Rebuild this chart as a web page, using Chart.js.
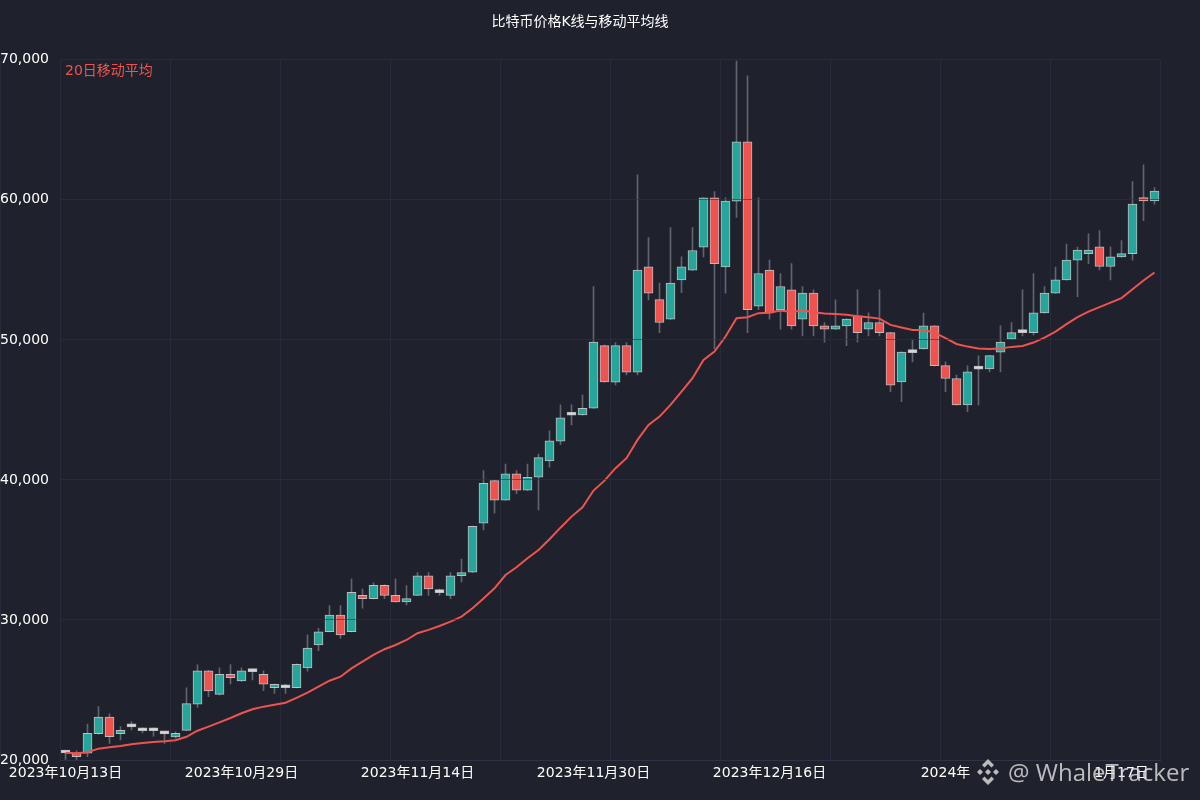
<!DOCTYPE html>
<html lang="zh-CN">
<head>
<meta charset="UTF-8">
<title>比特币价格K线与移动平均线</title>
<script src="https://cdn.jsdelivr.net/npm/chart.js@4.4.0/dist/chart.umd.min.js"></script>
<style>
  html, body { margin: 0; padding: 0; background: #1f222d; }
  #wrap { position: relative; width: 1200px; height: 800px; }
  #kline { display: block; }
  .mark { position: absolute; left: 974px; top: 757px; height: 30px; display: flex; align-items: center;
          color: rgba(215,215,215,0.85); font-family: "Open Sans", "DejaVu Sans", sans-serif; font-size: 24px; line-height: 30px; white-space: nowrap; }
  .mark svg { margin-right: 6px; }
</style>
</head>
<body>
<div id="wrap">
  <canvas id="kline" width="1200" height="800"></canvas>
  <div class="mark">
    <svg width="28" height="28" viewBox="0 0 28 28">
      <g fill="rgba(215,215,215,0.85)">
        <polygon points="14,1 20,7 17.5,9.5 14,6 10.5,9.5 8,7"/>
        <polygon points="14,27 20,21 17.5,18.5 14,22 10.5,18.5 8,21"/>
        <polygon points="3,14 6,11 9,14 6,17"/>
        <polygon points="25,14 22,11 19,14 22,17"/>
        <polygon points="14,11 17,14 14,17 11,14"/>
      </g>
    </svg>
    <span>@ WhaleTracker</span>
  </div>
</div>
<script>
// 日K数据（开、高、低、收）和20日均线
var opens = [20500,20520,20480,21880,23070,21880,22360,22090,22090,21860,
  21640,22120,23980,26360,24690,26120,25640,26310,26120,25160,
  25160,25160,26570,28210,29160,30340,29160,31760,31520,32480,
  31760,31290,31760,33160,31950,31760,33160,33410,36910,39950,
  38550,40430,39260,40190,41360,42760,44620,44640,45120,49590,
  46980,49590,47690,55210,52880,51480,54290,54980,56620,60140,
  55210,59910,64140,52410,54980,52160,53570,51480,53340,51000,
  50760,51000,51710,50760,51240,50520,47000,49090,49360,51000,
  48160,47240,45360,47910,47930,49120,50050,50520,50520,51930,
  53340,54290,55690,56160,56640,55240,55930,56160,60160,59930];
var highs = [20660,20660,22570,23810,23290,22380,22740,22290,22290,22020,
  22020,25160,26790,26400,26590,26810,26590,26430,26360,25430,
  25410,26860,28930,29410,31020,31020,32930,32210,32660,32500,
  32930,32450,33380,33380,32210,33380,34340,36710,40660,39970,
  41140,40660,41140,41840,43500,45360,45360,46070,53810,49620,
  49810,49810,61790,57310,54050,58020,55930,58020,60160,60590,
  60140,69900,68860,60140,55690,54740,55450,53810,53570,51240,
  52860,51500,53570,51930,53570,50540,49140,50000,51910,51020,
  48430,47480,48140,48860,48900,51000,51240,53570,54740,53810,
  55190,56840,56620,57570,57810,56640,57090,61310,62500,60880];
var lows = [20050,20050,20240,21850,21190,21430,22140,21930,21710,21190,
  21550,22100,23760,24520,24650,25430,25620,25710,24950,24760,
  24760,25140,26340,27810,29140,28690,29140,30840,31500,31520,
  31270,31070,31740,31760,31760,31520,32710,33380,36430,37620,
  38530,39020,39240,37860,40910,42520,43930,44620,45100,46980,
  46790,47500,47500,52860,50520,51460,53380,54960,55930,49360,
  53340,58740,50520,52160,51480,50760,50760,50290,50290,49840,
  50740,49590,49840,50290,50290,46310,45590,48430,49340,48140,
  46310,45340,44880,45360,47710,47710,50030,50290,50360,51910,
  53320,54270,53090,55450,55000,54290,55910,55690,58520,59690];
var closes = [20500,20240,21910,23070,21660,22120,22360,22090,22090,21860,
  21910,24020,26360,24930,26120,25880,26360,26310,25410,25410,
  25160,26840,28000,29160,30340,28930,31980,31520,32480,31760,
  31290,31520,33160,32210,31950,33160,33380,36690,39760,38550,
  40430,39260,40190,41590,42790,44430,44620,45120,49840,47000,
  49590,47690,54980,53340,51240,54050,55210,56380,60140,55450,
  59910,64140,52160,54740,51930,53810,51000,53340,51000,50760,
  51000,51480,50520,51240,50520,46760,49120,49090,51000,48160,
  47240,45360,47710,47910,48880,49840,50520,50520,51930,53340,
  54290,55690,56410,56410,55240,55930,56160,59690,59930,60620];
var ma20 = [20520,20480,20550,20810,20910,21000,21120,21210,21290,21340,
  21410,21660,22090,22380,22690,23000,23340,23620,23810,23950,
  24090,24430,24810,25240,25660,25950,26540,27020,27500,27910,
  28210,28570,29050,29290,29570,29880,30240,30840,31540,32260,
  33210,33760,34410,35000,35760,36590,37380,38050,39240,39950,
  40840,41550,42860,43930,44520,45360,46310,47260,48570,49160,
  50240,51550,51620,51910,51930,52090,52000,52090,51980,51880,
  51840,51790,51690,51620,51520,51070,50880,50710,50710,50520,
  50120,49710,49520,49380,49340,49380,49500,49570,49810,50160,
  50590,51120,51620,52020,52340,52660,52980,53620,54240,54810];

// 日期类别，从2023-10-13起每日一根
var startDay = Date.UTC(2023, 9, 13);
var days = [];
for (var i = 0; i < opens.length; i++) {
  days.push(new Date(startDay + i * 86400000).toISOString().slice(0, 10));
}
var tickNames = {
  '2023-10-13': '2023年10月13日',
  '2023-10-29': '2023年10月29日',
  '2023-11-14': '2023年11月14日',
  '2023-11-30': '2023年11月30日',
  '2023-12-16': '2023年12月16日',
  '2024-01-01': '2024年',
  '2024-01-17': '1月17日'
};
var yMin = 20000, yMax = 70000, yStep = 10000;

var upColor = '#26a69a', downColor = '#ef5350', flatColor = '#d8d8d8';
var gridColor = 'rgba(46,50,68,0.6)';
var fontFamily = "'DejaVu Sans', 'Noto Sans CJK SC', sans-serif";

var bodyColors = [];
for (var i in opens) {
  if (closes[i] > opens[i]) bodyColors.push(upColor);
  else if (closes[i] < opens[i]) bodyColors.push(downColor);
  else bodyColors.push(flatColor);
}

// 左上角的均线图例
var maLegend = {
  id: 'maLegend',
  afterDraw: function(chart) {
    var c = chart.ctx, a = chart.chartArea;
    c.save();
    c.font = '14px ' + fontFamily;
    c.fillStyle = downColor;
    c.textBaseline = 'middle';
    c.fillText('20日移动平均', a.left + 5, a.top + 12);
    c.restore();
  }
};

var ctx = document.getElementById('kline').getContext('2d');
var chart = new Chart(ctx, {
  type: 'bar',
  data: {
    labels: days,
    datasets: [{
      type: 'line',
      label: '20日移动平均',
      data: ma20,
      borderColor: downColor,
      borderWidth: 2,
      pointRadius: 0,
      tension: 0,
      order: 0
    }, {
      label: 'K线实体',
      data: opens.map(function(o, i) { return [o, closes[i]]; }),
      backgroundColor: bodyColors,
      borderColor: 'rgba(215,215,215,0.85)',
      borderWidth: 1,
      borderSkipped: false,
      barThickness: 9,
      minBarLength: 3,
      grouped: false,
      order: 1
    }, {
      label: '影线',
      data: lows.map(function(l, i) { return [l, highs[i]]; }),
      backgroundColor: '#61646f',
      barThickness: 1,
      grouped: false,
      order: 2
    }]
  },
  options: {
    responsive: false,
    animation: false,
    layout: { padding: { left: 0, right: 40, top: 0, bottom: 0 } },
    plugins: {
      legend: { display: false },
      tooltip: { enabled: false },
      title: {
        display: true,
        text: '比特币价格K线与移动平均线',
        color: '#ffffff',
        font: { family: fontFamily, size: 14, weight: 'normal' },
        padding: { top: 14, bottom: 29 }
      }
    },
    scales: {
      x: {
        offset: true,
        grid: {
          offset: true,
          drawTicks: false,
          color: function(c) {
            return (c.index === undefined || c.index % 10 === 0) ? gridColor : 'rgba(0,0,0,0)';
          }
        },
        border: { color: 'rgba(52,56,74,0.9)' },
        ticks: {
          autoSkip: false,
          maxRotation: 0,
          minRotation: 0,
          padding: 5,
          color: '#ffffff',
          font: { family: fontFamily, size: 14 },
          callback: function(v) { return tickNames[this.getLabelForValue(v)] || ''; }
        },
        afterFit: function(s) { s.height = 40; }
      },
      y: {
        min: yMin,
        max: yMax,
        grid: { color: gridColor, drawTicks: false, z: 1 },
        border: { color: 'rgba(52,56,74,0.9)' },
        ticks: {
          stepSize: yStep,
          crossAlign: 'far',
          padding: 6,
          color: '#ffffff',
          font: { family: fontFamily, size: 14 },
          callback: function(v) { return v.toLocaleString('en-US'); }
        },
        afterFit: function(s) { s.width = 60; }
      }
    }
  },
  plugins: [maLegend]
});
</script>
</body>
</html>
